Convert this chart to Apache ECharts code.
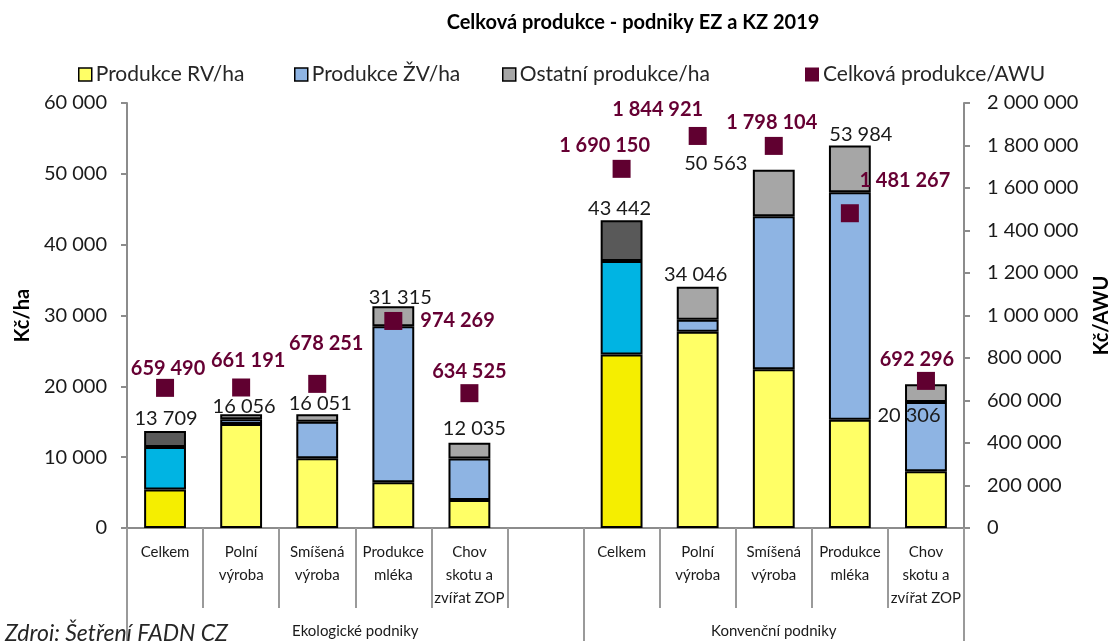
<!DOCTYPE html>
<html>
<head>
<meta charset="utf-8">
<script src="https://cdn.jsdelivr.net/npm/echarts@6/dist/echarts.min.js"></script>
<style>
  html, body { margin: 0; padding: 0; background: #fff; }
  #chart { width: 1120px; height: 641px; }
</style>
</head>
<body>
<div id="chart"></div>
<script>
// data
const categories = ['Celkem', 'Polní\nvýroba', 'Smíšená\nvýroba', 'Produkce\nmléka', 'Chov\nskotu a\nzvířat ZOP', '',
  'Celkem', 'Polní\nvýroba', 'Smíšená\nvýroba', 'Produkce\nmléka', 'Chov\nskotu a\nzvířat ZOP']
const groups = ['Ekologické podniky', 'Konvenční podniky']
const rvHa = [5450, 14700, 9850, 6450, 3950, '-', 24500, 27700, 22400, 15300, 8000]
const zvHa = [6000, 650, 5150, 22050, 5850, '-', 13200, 1700, 21600, 32100, 9800]
const otherHa = [2259, 706, 1051, 2815, 2235, '-', 5742, 4646, 6563, 6584, 2506]
const totalHa = [13709, 16056, 16051, 31315, 12035, '-', 43442, 34046, 50563, 53984, 20306]
const totalAwu = [659490, 661191, 678251, 974269, 634525, '-', 1690150, 1844921, 1798104, 1481267, 692296]
const barNames = ['Produkce RV/ha', 'Produkce ŽV/ha', 'Ostatní produkce/ha']
const awuName = 'Celková produkce/AWU'

// region styl

const FONT = 'Lato'
const celkemIdx = [0, 6]
const celkemColors = ['#F5EE00', '#00B4E3', '#595959']
const barColors = ['#FFFF66', '#8EB4E3', '#A6A6A6']
const legendLeft = [73, 289, 497]

// posun popisků (ruční umístění jako v originále)
const totalOffset = [[1, 3], [3, 7], [3, 4], [7, 6], [5, 1], [0, 0], [-2, 3], [-2, 3], [-58, 9], [11, 4], [-17, 46]]
const awuOffset = [[3, 5], [7, -3], [9, -16], null, [0, 2], [0, 0], [-17, 1], [-40, -2], [-2, 1], [55, -9], [-9, 3]]

function fmt(v) {
  return String(v).replace(/\B(?=(\d{3})+(?!\d))/g, ' ')
}

function barData(values, k) {
  return values.map((v, i) => {
    if (celkemIdx.indexOf(i) >= 0) {
      return {value: v, itemStyle: {color: celkemColors[k]}}
    }
    return v
  })
}

const legendText = {fontFamily: FONT, fontSize: 21, color: '#262626', padding: [0, 0, 0, -1]}

// endregion

const chart = echarts.init(document.getElementById('chart'), null, {renderer: 'canvas'})

const legends = barNames.map((name, i) => ({
  data: [name],
  left: legendLeft[i],
  top: 59,
  icon: 'rect',
  itemWidth: 13,
  itemHeight: 13,
  itemStyle: {borderColor: '#000', borderWidth: 1.5},
  textStyle: legendText
}))
legends.push({
  data: [awuName],
  left: 800,
  top: 59,
  icon: 'rect',
  itemWidth: 14,
  itemHeight: 14,
  itemStyle: {borderWidth: 0},
  textStyle: legendText
})

const series = barNames.map((name, k) => ({
  name: name,
  type: 'bar',
  stack: 'ha',
  barWidth: '55%',
  itemStyle: {color: barColors[k], borderColor: '#000', borderWidth: 2},
  data: barData([rvHa, zvHa, otherHa][k], k)
}))

series.push({
  name: 'Celkem/ha',
  type: 'scatter',
  symbolSize: 0,
  z: 5,
  silent: true,
  itemStyle: {opacity: 1},
  data: totalHa.map((v, i) => ({
    value: v,
    label: {offset: totalOffset[i]}
  })),
  label: {
    show: true,
    position: 'top',
    distance: 5,
    fontFamily: FONT,
    fontSize: 20,
    color: '#1A1A1A',
    formatter: p => fmt(p.value)
  }
})

series.push({
  name: awuName,
  type: 'scatter',
  yAxisIndex: 1,
  symbol: 'rect',
  symbolSize: 18,
  z: 6,
  itemStyle: {color: '#600030', opacity: 1},
  data: totalAwu.map((v, i) => {
    if (awuOffset[i] === null) {
      return {value: v, label: {position: 'right', distance: 18}}
    }
    return {value: v, label: {offset: awuOffset[i]}}
  }),
  label: {
    show: true,
    position: 'top',
    distance: 5,
    fontFamily: FONT,
    fontSize: 20,
    fontWeight: 'bold',
    color: '#660033',
    formatter: p => fmt(p.value)
  }
})

const option = {
  animation: false,
  textStyle: {fontFamily: FONT},
  title: [
    {
      text: 'Celková produkce - podniky EZ a KZ 2019',
      left: 628,
      top: 8,
      textAlign: 'center',
      textStyle: {fontFamily: FONT, fontSize: 20, fontWeight: 'bold', color: '#000'}
    },
    {
      text: 'Zdroj: Šetření FADN CZ',
      left: 0,
      top: 617,
      textStyle: {fontFamily: FONT, fontSize: 23, fontStyle: 'italic', fontWeight: 'normal', color: '#262626'}
    }
  ],
  legend: legends,
  grid: {left: 127, right: 151, top: 103, bottom: 113},
  xAxis: [
    {
      type: 'category',
      data: categories,
      axisLine: {lineStyle: {color: '#8C8C8C', width: 2}},
      axisTick: {show: true, interval: 0, length: 80, lineStyle: {color: '#9A9A9A', width: 2}},
      axisLabel: {interval: 0, margin: 13, fontFamily: FONT, fontSize: 15, lineHeight: 23, color: '#1A1A1A'}
    },
    {
      type: 'value',
      min: 0,
      max: categories.length,
      position: 'bottom',
      axisLine: {show: false},
      splitLine: {show: false},
      axisTick: {show: true, customValues: [0, 6, 11], length: 113, lineStyle: {color: '#9A9A9A', width: 2}},
      axisLabel: {
        customValues: [3, 8.5],
        margin: 96,
        fontFamily: FONT,
        fontSize: 15,
        color: '#1A1A1A',
        formatter: v => (v < 6 ? groups[0] : groups[1])
      }
    }
  ],
  yAxis: [
    {
      type: 'value',
      min: 0,
      max: 60000,
      interval: 10000,
      name: 'Kč/ha',
      nameLocation: 'middle',
      nameRotate: 90,
      nameGap: 83,
      nameTextStyle: {fontFamily: FONT, fontSize: 20, fontWeight: 'bold', color: '#000'},
      axisLine: {show: true, lineStyle: {color: '#8C8C8C', width: 2}},
      axisTick: {show: true, length: 6, lineStyle: {color: '#8C8C8C', width: 2}},
      splitLine: {show: false},
      axisLabel: {margin: 20, fontFamily: FONT, fontSize: 20, color: '#1A1A1A', formatter: fmt}
    },
    {
      type: 'value',
      min: 0,
      max: 2000000,
      interval: 200000,
      position: 'right',
      name: 'Kč/AWU',
      nameLocation: 'middle',
      nameRotate: 90,
      nameGap: 128,
      nameTextStyle: {fontFamily: FONT, fontSize: 20, fontWeight: 'bold', color: '#000'},
      axisLine: {show: true, lineStyle: {color: '#8C8C8C', width: 2}},
      axisTick: {show: true, length: 6, lineStyle: {color: '#8C8C8C', width: 2}},
      splitLine: {show: false},
      axisLabel: {margin: 23, fontFamily: FONT, fontSize: 20, color: '#1A1A1A', formatter: fmt}
    }
  ],
  series: series
}

chart.setOption(option)
</script>
</body>
</html>
